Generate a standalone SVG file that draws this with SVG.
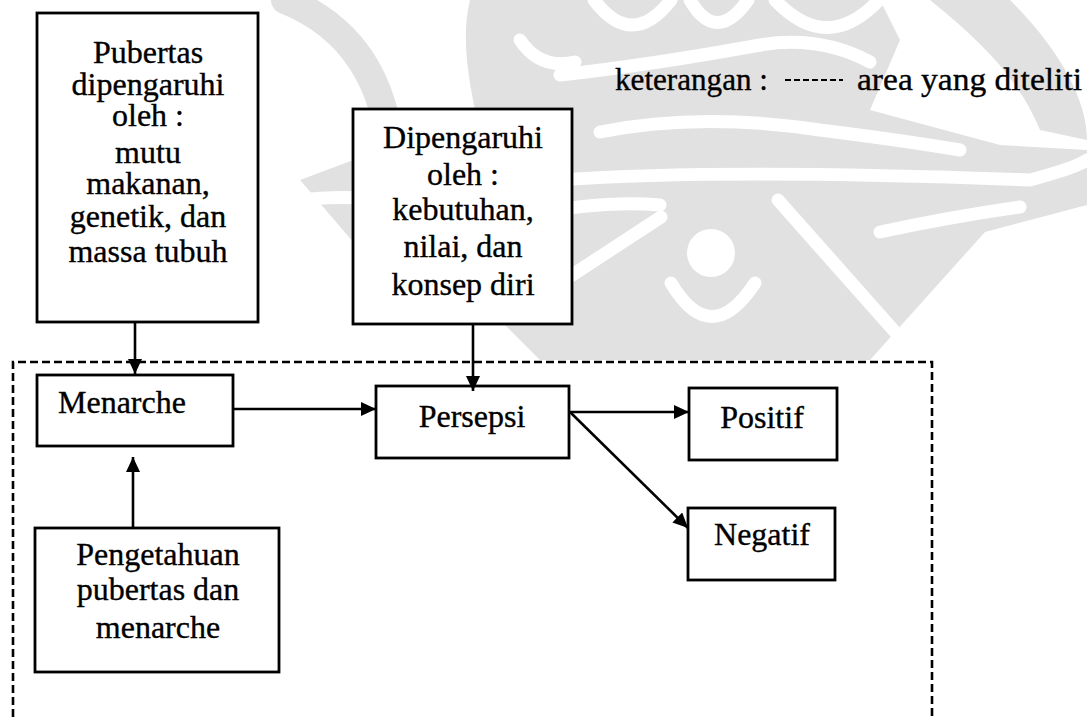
<svg xmlns="http://www.w3.org/2000/svg" width="1087" height="717" viewBox="0 0 1087 717">
<style>
.box{fill:#fff;stroke:#000;stroke-width:2.8}
.t{font-family:"Liberation Serif","Times New Roman",serif;font-size:32px;fill:#000;stroke:#000;stroke-width:0.35}
.c{text-anchor:middle}
.conn{stroke:#000;stroke-width:2.6;fill:none}
.area{stroke:#000;stroke-width:2.6;fill:none;stroke-dasharray:8 4}
.wm{fill:#e1e1e1}
.wms{fill:none;stroke:#e1e1e1;stroke-linecap:round}
.wmw{fill:none;stroke:#fff;stroke-width:13;stroke-linecap:round}
</style>
<defs>
<marker id="ah" markerUnits="userSpaceOnUse" markerWidth="16" markerHeight="14" refX="15" refY="7" orient="auto">
<path d="M0,0 L15,7 L0,14 z" fill="#000"/>
</marker>
</defs>
<rect width="1087" height="717" fill="#fff"/>
<g id="watermark">
<path class="wm" d="M470,0 L880,0 L900,40 L870,110 L1000,145 L1087,150 L1087,205 L985,232 L870,360 L540,360 L480,300 L360,250 L300,180 L380,150 L480,130 C470,90 460,40 470,0 z"/>
<path class="wm" d="M930,0 L1010,0 C1060,50 1087,100 1087,140 L1040,130 C1020,80 980,40 930,0 z"/>
<path class="wms" stroke-width="28" d="M285,0 Q385,40 392,165"/>
<path class="wmw" d="M594,0 Q632,50 671,0"/>
<path class="wmw" d="M690,0 Q716,45 748,0"/>
<path class="wmw" d="M775,0 Q827,55 879,0"/>
<path class="wmw" d="M520,40 Q540,70 575,62"/>
<path class="wmw" d="M560,75 Q650,65 760,45"/>
<path class="wmw" d="M760,45 Q820,35 870,62"/>
<path class="wmw" d="M480,120 Q520,110 560,118"/>
<path class="wmw" d="M600,132 Q700,112 820,130 Q900,140 960,150"/>
<path class="wmw" d="M560,180 C700,170 900,175 1030,180 C1060,172 1080,165 1087,160"/>
<path class="wmw" d="M530,215 Q600,200 660,205"/>
<path class="wmw" d="M880,232 Q950,217 1020,207"/>
<path class="wmw" d="M560,283 L661,217"/>
<path class="wmw" d="M778,200 L896,333"/>
<path class="wmw" d="M671,283 Q711,350 755,283"/>
<path class="wmw" d="M300,200 Q380,190 470,220"/>
<path class="wmw" d="M330,260 Q420,250 520,300"/>
<path class="wmw" d="M420,300 Q480,285 540,300"/>
<circle cx="711" cy="253" r="24" fill="#fff"/>
</g>
<path class="area" d="M13,717 V362 H932 V717"/>
<g id="legend">
<text class="t" x="615" y="90" textLength="153" lengthAdjust="spacingAndGlyphs">keterangan :</text>
<line x1="785" y1="80" x2="843" y2="80" stroke="#000" stroke-width="2" stroke-dasharray="6 3"/>
<text class="t" x="857" y="90" textLength="225" lengthAdjust="spacingAndGlyphs">area yang diteliti</text>
</g>
<g id="pubertas">
<rect class="box" x="37" y="13" width="221" height="309"/>
<text class="t c" x="148" y="63">Pubertas</text>
<text class="t c" x="148" y="95">dipengaruhi</text>
<text class="t c" x="148" y="126">oleh :</text>
<text class="t c" x="148" y="163">mutu</text>
<text class="t c" x="148" y="194">makanan,</text>
<text class="t c" x="148" y="227">genetik, dan</text>
<text class="t c" x="148" y="262">massa tubuh</text>
</g>
<g id="dipengaruhi">
<rect class="box" x="353" y="109" width="219" height="215"/>
<text class="t c" x="463" y="148">Dipengaruhi</text>
<text class="t c" x="463" y="185">oleh :</text>
<text class="t c" x="463" y="220">kebutuhan,</text>
<text class="t c" x="463" y="257">nilai, dan</text>
<text class="t c" x="463" y="295">konsep diri</text>
</g>
<g id="menarche">
<rect class="box" x="37" y="375" width="196" height="71"/>
<text class="t" x="58" y="413">Menarche</text>
</g>
<g id="persepsi">
<rect class="box" x="376" y="386" width="193" height="72"/>
<text class="t c" x="472" y="427">Persepsi</text>
</g>
<g id="pengetahuan">
<rect class="box" x="35" y="528" width="244" height="144"/>
<text class="t c" x="158" y="565">Pengetahuan</text>
<text class="t c" x="158" y="600">pubertas dan</text>
<text class="t c" x="158" y="638">menarche</text>
</g>
<g id="positif">
<rect class="box" x="689" y="388" width="148" height="72"/>
<text class="t c" x="762" y="428">Positif</text>
</g>
<g id="negatif">
<rect class="box" x="688" y="508" width="147" height="72"/>
<text class="t c" x="762" y="545">Negatif</text>
</g>
<g id="connectors">
<path class="conn" d="M135,322 V374" marker-end="url(#ah)"/>
<path class="conn" d="M473,324 V391" marker-end="url(#ah)"/>
<path class="conn" d="M233,409 H376" marker-end="url(#ah)"/>
<path class="conn" d="M133,528 V457" marker-end="url(#ah)"/>
<path class="conn" d="M569,412 H689" marker-end="url(#ah)"/>
<path class="conn" d="M570,412 L688,528" marker-end="url(#ah)"/>
</g>
</svg>
